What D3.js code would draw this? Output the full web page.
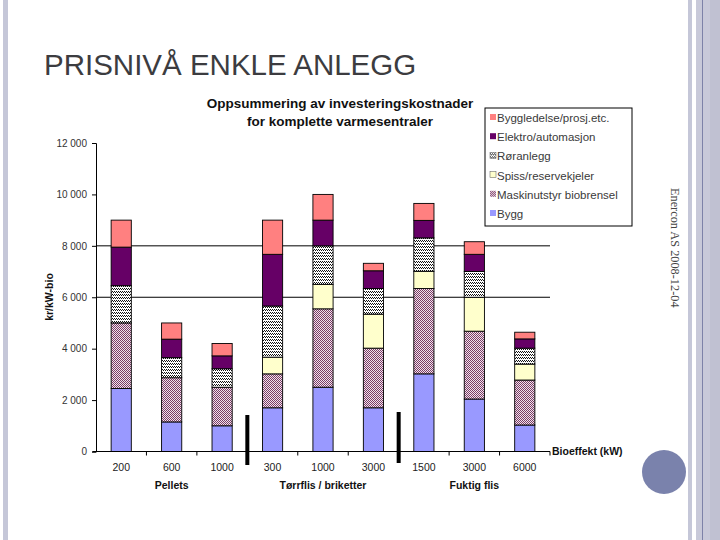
<!DOCTYPE html>
<html>
<head>
<meta charset="utf-8">
<title>Prisnivå enkle anlegg</title>
<script src="https://d3js.org/d3.v7.min.js"></script>
<style>
    body { margin: 0; padding: 0; background: #fff; }
    text { font-family: "Liberation Sans", Arial, sans-serif; }
</style>
</head>
<body>
<svg id="svg" width="720" height="540"></svg>
<script>
// Data
const categories = ["200", "600", "1000", "300", "1000", "3000", "1500", "3000", "6000"];
const groups = ["Pellets", "Tørrflis / briketter", "Fuktig flis"];
const groupSizes = [3, 3, 3];
const seriesNames = ["Bygg", "Maskinutstyr biobrensel", "Spiss/reservekjeler", "Røranlegg", "Elektro/automasjon", "Byggledelse/prosj.etc."];
const bygg        = [2450, 1150, 1000, 1700, 2500, 1700, 3020, 2040, 1030];
const maskin      = [2550, 1720, 1500, 1320, 3050, 2320, 3320, 2640, 1750];
const spiss       = [0, 0, 0, 650, 950, 1320, 670, 1320, 620];
const ror         = [1450, 780, 720, 1990, 1500, 1000, 1300, 1000, 620];
const elektro     = [1500, 720, 500, 2010, 1000, 690, 680, 670, 360];
const byggledelse = [1050, 630, 480, 1330, 1000, 290, 660, 490, 260];
const yTicks = [0, 2000, 4000, 6000, 8000, 10000, 12000];
const gridValues = [6000, 8000];

const svg = d3.select("#svg");
const defs = svg.append("defs");

// Pattern fills (Excel style)
const pm = defs.append("pattern").attr("id", "pMaskin")
    .attr("width", 2).attr("height", 2).attr("patternUnits", "userSpaceOnUse");
pm.append("rect").attr("width", 2).attr("height", 2).attr("fill", "#efe6ec");
pm.append("rect").attr("width", 1).attr("height", 1).attr("fill", "#7c3a66");
pm.append("rect").attr("x", 1).attr("y", 1).attr("width", 1).attr("height", 1).attr("fill", "#7c3a66");

const pr = defs.append("pattern").attr("id", "pRor")
    .attr("width", 4).attr("height", 3).attr("patternUnits", "userSpaceOnUse");
pr.append("rect").attr("width", 4).attr("height", 3).attr("fill", "#fff");
[[0, 0], [1, 1], [2, 0], [3, 1]].forEach(p => {
    pr.append("rect").attr("x", p[0]).attr("y", p[1]).attr("width", 1).attr("height", 1).attr("fill", "#111");
});

const fills = ["#9999ff", "url(#pMaskin)", "#ffffcc", "url(#pRor)", "#660066", "#ff8080"];

// Slide frame
svg.append("rect").attr("x", 3).attr("y", 0).attr("width", 5).attr("height", 540).attr("fill", "#c5c7d8");
svg.append("rect").attr("x", 688).attr("y", 0).attr("width", 4).attr("height", 540).attr("fill", "#c5c7d8");
svg.append("rect").attr("x", 696).attr("y", 0).attr("width", 24).attr("height", 540).attr("fill", "#c8c9d9");
svg.append("rect").attr("x", 710).attr("y", 0).attr("width", 10).attr("height", 540).attr("fill", "#c0c1d2");
svg.append("rect").attr("x", 702).attr("y", 0).attr("width", 1).attr("height", 540).attr("fill", "#7d82a8");
svg.append("circle").attr("cx", 664).attr("cy", 472).attr("r", 22).attr("fill", "#7a82ac");

svg.append("text").attr("x", 44).attr("y", 75)
    .attr("font-size", 29.5).attr("fill", "#3c3c40")
    .text("PRISNIVÅ ENKLE ANLEGG");

svg.append("text")
    .attr("transform", "translate(671,188) rotate(90)")
    .attr("font-size", 12.3).attr("fill", "#444")
    .style("font-family", "'Liberation Serif', serif")
    .text("Enercon AS 2008-12-04");

// Chart title
const title = svg.append("text").attr("text-anchor", "middle")
    .attr("font-size", 13.5).attr("font-weight", "bold").attr("fill", "#111");
title.append("tspan").attr("x", 340).attr("y", 108).text("Oppsummering av investeringskostnader");
title.append("tspan").attr("x", 340).attr("y", 126).text("for komplette varmesentraler");

// Scales
const x = d3.scaleBand().domain(d3.range(categories.length)).range([96, 550]).paddingInner(0.6).paddingOuter(0.3);
const y = d3.scaleLinear().domain([0, 12000]).range([451.5, 143]);
const fmt = d3.formatLocale({ decimal: ",", thousands: " ", grouping: [3], currency: ["", ""] }).format(",");

// Gridlines
svg.append("g").selectAll("line").data(gridValues).join("line")
    .attr("x1", 96).attr("x2", 550)
    .attr("y1", d => y(d)).attr("y2", d => y(d))
    .attr("stroke", "#000").attr("stroke-width", 1);

// Stacked bars
const rows = categories.map((c, i) => ({
    i: i, s0: bygg[i], s1: maskin[i], s2: spiss[i], s3: ror[i], s4: elektro[i], s5: byggledelse[i]
}));
const stack = d3.stack().keys(["s0", "s1", "s2", "s3", "s4", "s5"])(rows);

svg.append("g").selectAll("g").data(stack).join("g")
    .attr("fill", (d, k) => fills[k])
    .selectAll("rect").data(d => d.filter(v => v[1] > v[0])).join("rect")
    .attr("x", d => x(d.data.i))
    .attr("width", x.bandwidth())
    .attr("y", d => y(d[1]))
    .attr("height", d => y(d[0]) - y(d[1]))
    .attr("stroke", "#000").attr("stroke-width", 0.9);

// Y axis
const yAxis = svg.append("g").attr("transform", "translate(96,0)")
    .call(d3.axisLeft(y).tickValues(yTicks).tickSize(4).tickFormat(fmt));
yAxis.select(".domain").attr("stroke", "#000");
yAxis.selectAll("text").attr("font-size", 10).attr("fill", "#333")
    .attr("font-family", "'Liberation Sans', Arial, sans-serif").attr("x", -9);

svg.append("text")
    .attr("transform", "translate(53,297) rotate(-90)")
    .attr("text-anchor", "middle").attr("font-size", 10.5).attr("font-weight", "bold")
    .attr("fill", "#111").text("kr/kW-bio");

// X axis
const step = x.step();
const bounds = d3.range(categories.length + 1).map(i => x(0) - (step - x.bandwidth()) / 2 + i * step);
svg.append("line").attr("x1", 93).attr("x2", 550).attr("y1", 451.5).attr("y2", 451.5).attr("stroke", "#000");
svg.append("g").selectAll("line").data(bounds.slice(1)).join("line")
    .attr("x1", d => d).attr("x2", d => d).attr("y1", 451.5).attr("y2", 455.5).attr("stroke", "#000");

svg.append("g").selectAll("text").data(categories).join("text")
    .attr("x", (d, i) => x(i) + x.bandwidth() / 2).attr("y", 471)
    .attr("text-anchor", "middle").attr("font-size", 10.5).attr("fill", "#222")
    .text(d => d);

let start = 0;
const groupPos = groups.map((g, k) => {
    const a = start, b = start + groupSizes[k] - 1;
    start += groupSizes[k];
    return { name: g, cx: (x(a) + x(b) + x.bandwidth()) / 2, end: b };
});
svg.append("g").selectAll("text").data(groupPos).join("text")
    .attr("x", d => d.cx).attr("y", 489)
    .attr("text-anchor", "middle").attr("font-size", 10.5).attr("font-weight", "bold").attr("fill", "#111")
    .text(d => d.name);

// Group separators
const sepY = [[415, 465], [412, 463]];
svg.append("g").selectAll("rect").data(groupPos.slice(0, -1)).join("rect")
    .attr("x", d => bounds[d.end + 1] - 2).attr("width", 4)
    .attr("y", (d, k) => sepY[k][0]).attr("height", (d, k) => sepY[k][1] - sepY[k][0])
    .attr("fill", "#000");

svg.append("text").attr("x", 552).attr("y", 455)
    .attr("font-size", 10.5).attr("font-weight", "bold").attr("fill", "#111")
    .text("Bioeffekt (kW)");

// Legend
const lg = svg.append("g").attr("transform", "translate(485,108)");
lg.append("rect").attr("width", 147).attr("height", 118).attr("fill", "#fff").attr("stroke", "#000");
const legendItems = seriesNames.map((n, k) => ({ name: n, fill: fills[k] })).reverse();
const li = lg.selectAll("g").data(legendItems).join("g")
    .attr("transform", (d, i) => `translate(5,${10 + i * 19.2})`);
li.append("rect").attr("y", -4).attr("width", 6).attr("height", 6)
    .attr("fill", d => d.fill).attr("stroke", (d, i) => i === 2 || i === 3 ? "#555" : "none").attr("stroke-width", 0.5);
li.append("text").attr("x", 7).attr("y", 4).attr("font-size", 11.5).attr("fill", "#3a3a3a").text(d => d.name);
</script>
</body>
</html>
